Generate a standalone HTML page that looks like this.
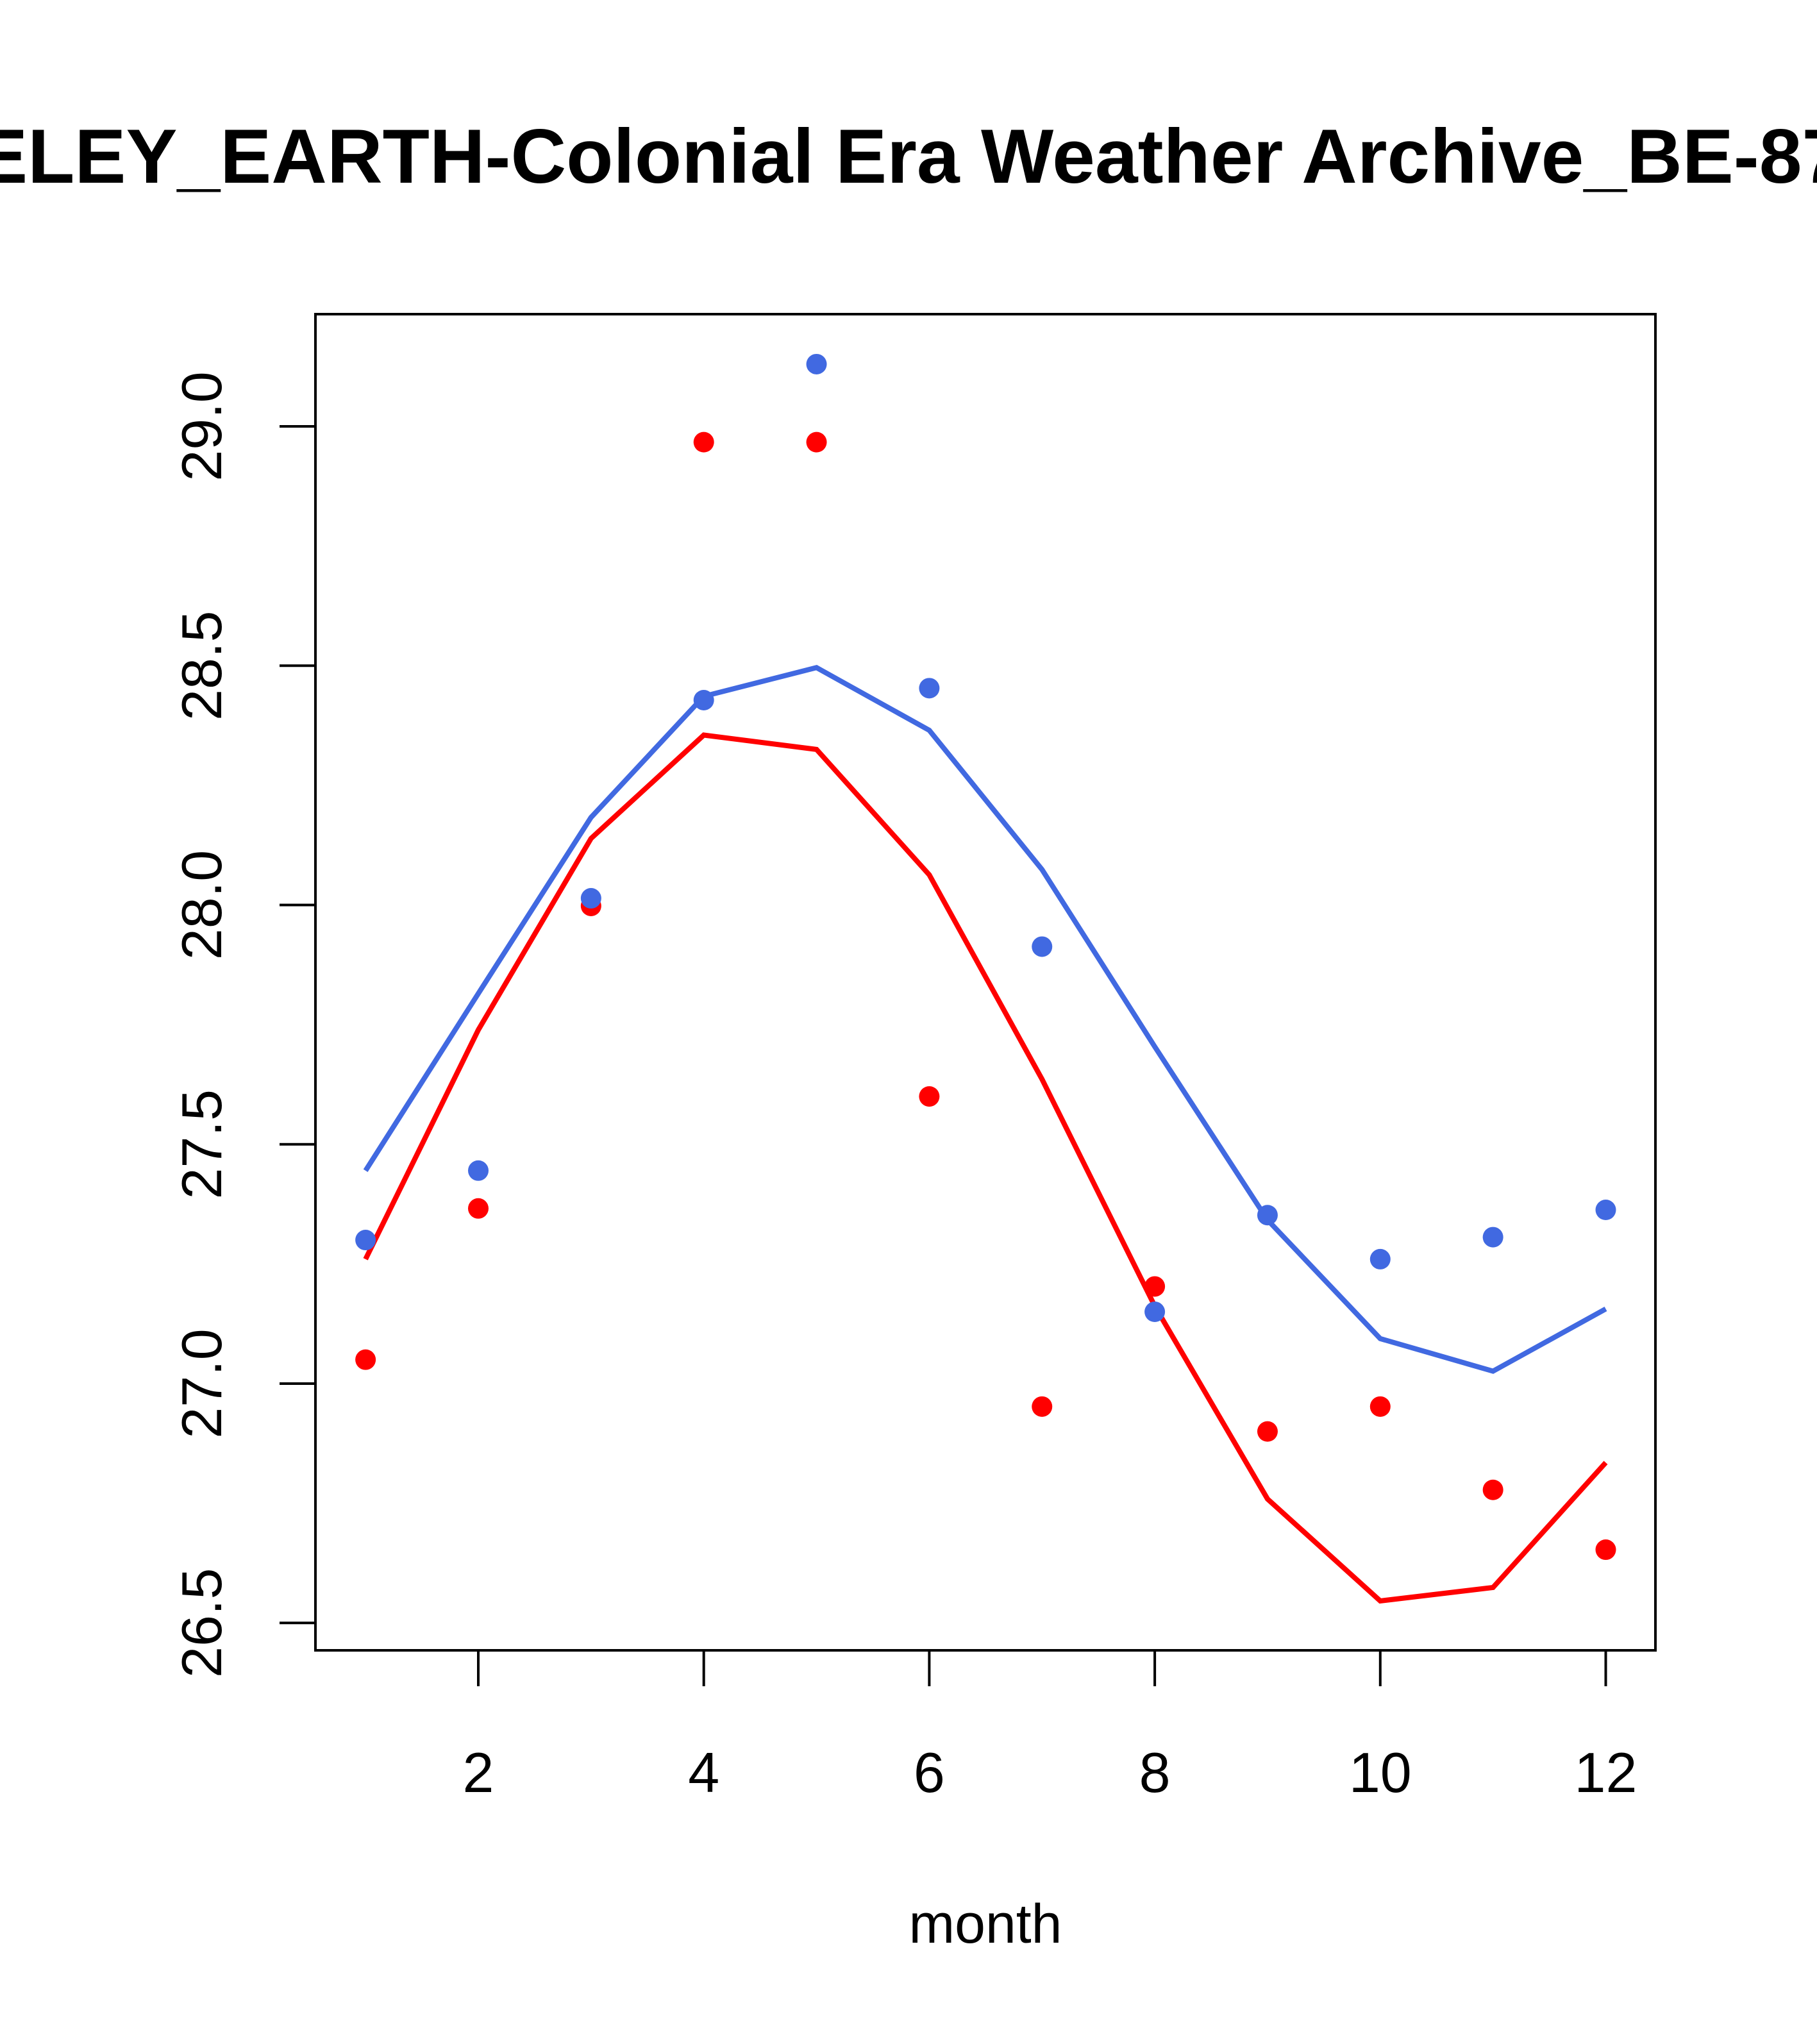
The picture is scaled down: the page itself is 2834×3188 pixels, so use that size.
<!DOCTYPE html>
<html><head><meta charset="utf-8">
<style>
html,body{margin:0;padding:0;background:#fff;}
svg{display:block;}
text{font-family:"Liberation Sans",Arial,sans-serif;fill:#000;}
</style></head>
<body>
<svg id="chart" width="2834" height="3188" viewBox="0 0 2834 3188" xmlns="http://www.w3.org/2000/svg">
<text x="1417" y="285" font-size="120" font-weight="bold" text-anchor="middle">BERKELEY_EARTH-Colonial Era Weather Archive_BE-8705123</text>
<rect x="492" y="490" width="2090" height="2084" fill="none" stroke="#000" stroke-width="4"/>
<text x="1537" y="3030" font-size="86" text-anchor="middle">month</text>
<g id="axes"></g>
<g id="marks"></g>
</svg>
<script>
const months = [1,2,3,4,5,6,7,8,9,10,11,12];
const bluePoints = [27.30,27.445,28.014,28.428,29.13,28.453,27.913,27.15,27.352,27.26,27.306,27.363];
const redPoints = [27.05,27.366,27.998,28.967,28.967,27.60,26.952,27.203,26.90,26.952,26.778,26.653];
const blueLine = [27.445,27.815,28.183,28.436,28.496,28.365,28.074,27.704,27.342,27.094,27.026,27.156];
const redLine = [27.26,27.739,28.139,28.355,28.325,28.063,27.636,27.162,26.759,26.546,26.574,26.835];
const xTicks = [2,4,6,8,10,12];
const yTicks = [26.5,27.0,27.5,28.0,28.5,29.0];
const yTickLabels = ["26.5","27.0","27.5","28.0","28.5","29.0"];

const NS="http://www.w3.org/2000/svg";
function xs(m){return 746 + (m-2)*175.85;}
function ys(v){return 665 + (29.0-v)*746.5;}
function mk(tag,attrs,parent){const e=document.createElementNS(NS,tag);for(const k in attrs)e.setAttribute(k,attrs[k]);parent.appendChild(e);return e;}
const axes=document.getElementById('axes'), marks=document.getElementById('marks');

xTicks.forEach((t,i)=>{
  const l=mk('line',{x1:xs(t),x2:xs(t),y1:2574,y2:2630,stroke:'#000','stroke-width':4},axes);
  
  
  const tx=mk('text',{x:xs(t),y:2795,'font-size':88,'text-anchor':'middle'},axes);
  tx.textContent=String(t);
  
  
});
yTicks.forEach((t,i)=>{
  const l=mk('line',{x1:436,x2:492,y1:ys(t),y2:ys(t),stroke:'#000','stroke-width':4},axes);
  
  
  const tx=mk('text',{x:0,y:0,'font-size':88,'text-anchor':'middle',transform:`translate(345,${ys(t)}) rotate(-90)`},axes);
  tx.textContent=yTickLabels[i];
  
  
});

function line(vals,color,name){
  const p=mk('polyline',{points:months.map((m,i)=>xs(m)+','+ys(vals[i])).join(' '),fill:'none',stroke:color,'stroke-width':8},marks);
  
  
}
function pts(vals,color,name){
  months.forEach((m,i)=>{
    const c=mk('circle',{cx:xs(m),cy:ys(vals[i]),r:16,fill:color},marks);
    
    
  });
}
line(blueLine,'#4169E1','blue-line');
line(redLine,'#FF0000','red-line');
pts(redPoints,'#FF0000','red-point');
pts(bluePoints,'#4169E1','blue-point');
</script>
</body></html>
